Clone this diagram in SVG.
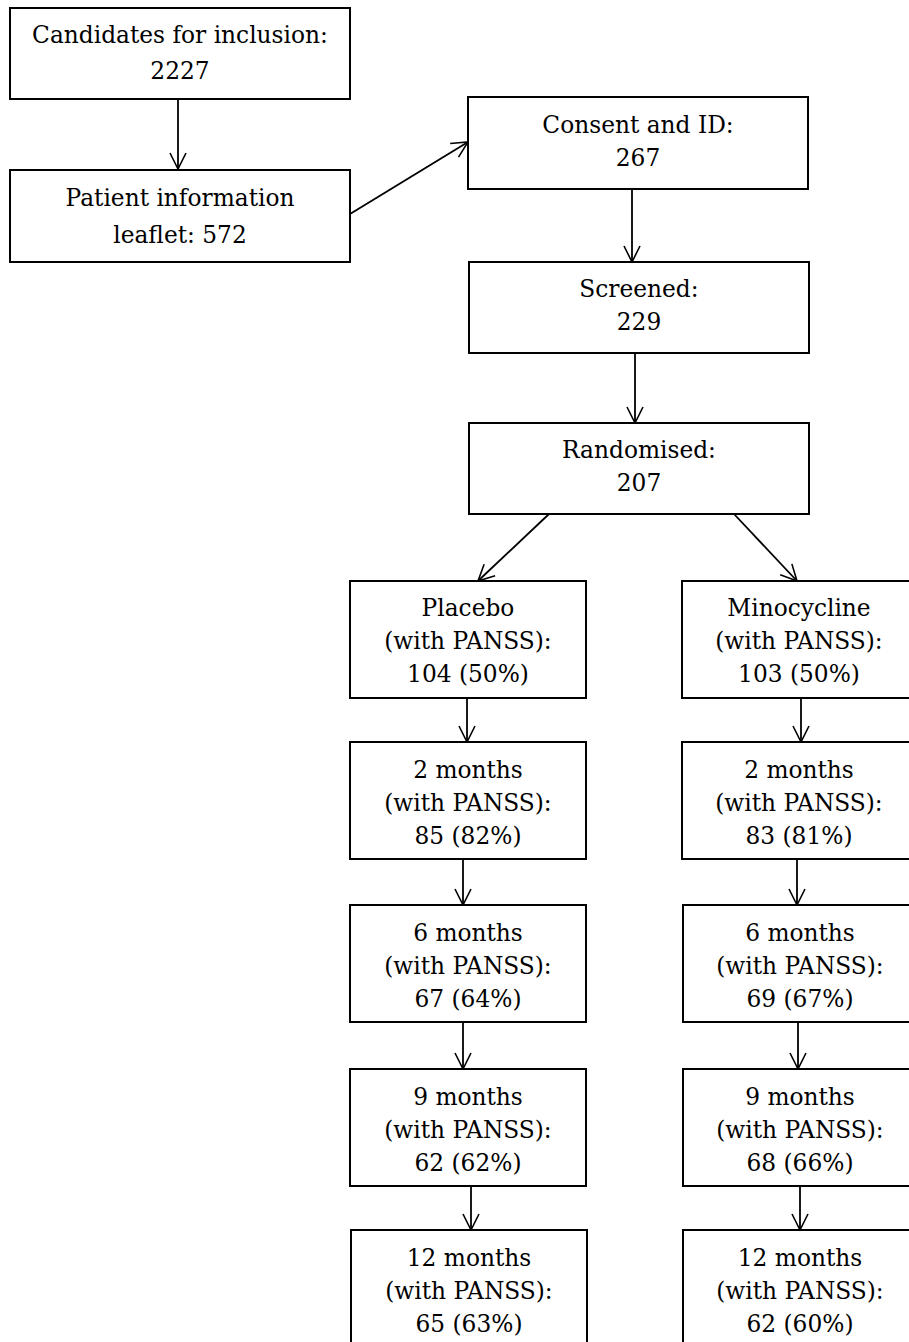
<svg xmlns="http://www.w3.org/2000/svg" width="909" height="1342" viewBox="0 0 909 1342">
<defs>
<marker id="ah" viewBox="0 0 20 20" refX="18" refY="10" markerWidth="20" markerHeight="20" markerUnits="userSpaceOnUse" orient="auto">
<path d="M2,2 L18,10 L2,18" fill="none" stroke="#000" stroke-width="1.6"/>
</marker>
<style>
rect{fill:#fff;stroke:#000;stroke-width:2}
text{font-family:"DejaVu Serif","Liberation Serif",serif;font-size:23.3px;fill:#000;text-anchor:middle}
.c line{stroke:#000;stroke-width:1.8;marker-end:url(#ah)}
</style>
</defs>
<rect x="0" y="0" width="909" height="1342" style="stroke:none"/>
<g class="c" id="connectors">
<line x1="178" y1="99" x2="178" y2="169"/>
<line x1="350" y1="214" x2="468" y2="142"/>
<line x1="632" y1="189" x2="632" y2="262"/>
<line x1="635" y1="353" x2="635" y2="423"/>
<line x1="549" y1="514" x2="478" y2="581"/>
<line x1="734" y1="514" x2="797" y2="581"/>
<line x1="467" y1="698" x2="467" y2="742"/>
<line x1="801" y1="698" x2="801" y2="742"/>
<line x1="463" y1="859" x2="463" y2="905"/>
<line x1="797" y1="859" x2="797" y2="905"/>
<line x1="463" y1="1022" x2="463" y2="1069"/>
<line x1="798" y1="1022" x2="798" y2="1069"/>
<line x1="471" y1="1186" x2="471" y2="1230"/>
<line x1="800" y1="1186" x2="800" y2="1230"/>
</g>
<g id="n_candidates"><rect x="10" y="8" width="340" height="91"/><text x="180" y="43">Candidates for inclusion:</text><text x="180" y="79">2227</text></g>
<g id="n_leaflet"><rect x="10" y="170" width="340" height="92"/><text x="180" y="206">Patient information</text><text x="180" y="243">leaflet: 572</text></g>
<g id="n_consent"><rect x="468" y="97" width="340" height="92"/><text x="638" y="133">Consent and ID:</text><text x="638" y="166">267</text></g>
<g id="n_screened"><rect x="469" y="262" width="340" height="91"/><text x="639" y="297">Screened:</text><text x="639" y="330">229</text></g>
<g id="n_randomised"><rect x="469" y="423" width="340" height="91"/><text x="639" y="458">Randomised:</text><text x="639" y="491">207</text></g>
<g id="n_placebo"><rect x="350" y="581" width="236" height="117"/><text x="468" y="616">Placebo</text><text x="468" y="649">(with PANSS):</text><text x="468" y="682">104 (50%)</text></g>
<g id="n_mino"><rect x="682" y="581" width="240" height="117"/><text x="799" y="616">Minocycline</text><text x="799" y="649">(with PANSS):</text><text x="799" y="682">103 (50%)</text></g>
<g id="n_p2"><rect x="350" y="742" width="236" height="117"/><text x="468" y="778">2 months</text><text x="468" y="811">(with PANSS):</text><text x="468" y="844">85 (82%)</text></g>
<g id="n_m2"><rect x="682" y="742" width="240" height="117"/><text x="799" y="778">2 months</text><text x="799" y="811">(with PANSS):</text><text x="799" y="844">83 (81%)</text></g>
<g id="n_p6"><rect x="350" y="905" width="236" height="117"/><text x="468" y="941">6 months</text><text x="468" y="974">(with PANSS):</text><text x="468" y="1007">67 (64%)</text></g>
<g id="n_m6"><rect x="683" y="905" width="240" height="117"/><text x="800" y="941">6 months</text><text x="800" y="974">(with PANSS):</text><text x="800" y="1007">69 (67%)</text></g>
<g id="n_p9"><rect x="350" y="1069" width="236" height="117"/><text x="468" y="1105">9 months</text><text x="468" y="1138">(with PANSS):</text><text x="468" y="1171">62 (62%)</text></g>
<g id="n_m9"><rect x="683" y="1069" width="240" height="117"/><text x="800" y="1105">9 months</text><text x="800" y="1138">(with PANSS):</text><text x="800" y="1171">68 (66%)</text></g>
<g id="n_p12"><rect x="351" y="1230" width="236" height="130"/><text x="469" y="1266">12 months</text><text x="469" y="1299">(with PANSS):</text><text x="469" y="1332">65 (63%)</text></g>
<g id="n_m12"><rect x="683" y="1230" width="240" height="130"/><text x="800" y="1266">12 months</text><text x="800" y="1299">(with PANSS):</text><text x="800" y="1332">62 (60%)</text></g>
</svg>
